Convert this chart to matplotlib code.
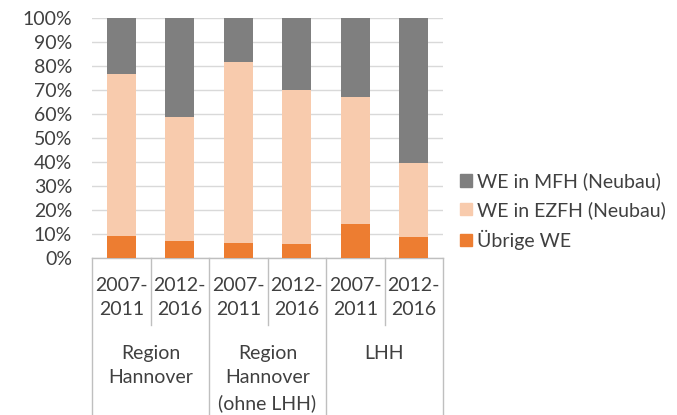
import numpy as np
import matplotlib
matplotlib.use("Agg")
import matplotlib.pyplot as plt
import matplotlib.transforms as mtransforms
from matplotlib.patches import Patch

plt.rcParams['font.family'] = ['Lato', 'DejaVu Sans']

# data (share in %)
periods = ['2007-\n2011', '2012-\n2016', '2007-\n2011', '2012-\n2016', '2007-\n2011', '2012-\n2016']
groups = ['Region\nHannover', 'Region\nHannover\n(ohne LHH)', 'LHH']
uebrige = [9.2, 7.1, 6.1, 5.8, 14.3, 8.6]
ezfh = [67.5, 51.6, 75.6, 64.4, 52.7, 31.0]
mfh = [23.3, 41.3, 18.3, 29.8, 33.0, 60.4]

col_mfh = '#7f7f7f'
col_ezfh = '#f8cbad'
col_ueb = '#ed7d31'
txt = '#404040'
grid = '#d9d9d9'
fs = 14

fig = plt.figure(figsize=(6.77, 4.15), dpi=100)
ax = fig.add_axes([92/677, 157/415, 351/677, 240/415])

x = np.arange(len(periods))
ueb = np.array(uebrige)
ez = np.array(ezfh)
mf = np.array(mfh)
ax.bar(x, ueb, width=0.5, color=col_ueb, zorder=3)
ax.bar(x, ez, width=0.5, bottom=ueb, color=col_ezfh, zorder=3)
ax.bar(x, mf, width=0.5, bottom=ueb + ez, color=col_mfh, zorder=3)

ax.set_xlim(-0.5, len(periods) - 0.5)
ax.set_ylim(0, 100)
ax.set_yticks(np.arange(0, 101, 10))
ax.set_yticklabels(['%d%%' % v for v in range(0, 101, 10)])
ax.tick_params(axis='y', length=0, pad=14.4, labelsize=fs, labelcolor=txt)
ax.set_xticks([])
ax.yaxis.grid(True, color=grid, lw=1)
ax.set_axisbelow(True)
for s in ['left', 'right', 'top']:
    ax.spines[s].set_visible(False)
ax.spines['bottom'].set_color('#bfbfbf')
ax.spines['bottom'].set_linewidth(1)

# two level category axis
tr = mtransforms.blended_transform_factory(ax.transData, ax.transAxes)
for i in range(len(periods) + 1):
    xb = i - 0.5
    yend = -0.654 if i % 2 == 0 else -0.279
    ax.plot([xb, xb], [0, yend], color='#bfbfbf', lw=1, transform=tr, clip_on=False)
for i, p in enumerate(periods):
    ax.text(i, -0.078, p, transform=tr, ha='center', va='top', fontsize=fs,
            color=txt, linespacing=1.55)
for g, name in enumerate(groups):
    ax.text(2 * g + 0.5, -0.362, name, transform=tr, ha='center', va='top',
            fontsize=fs, color=txt, linespacing=1.52)

handles = [Patch(color=col_mfh), Patch(color=col_ezfh), Patch(color=col_ueb)]
labels = ['WE in MFH (Neubau)', 'WE in EZFH (Neubau)', 'Übrige WE']
leg = fig.legend(handles, labels, loc='center left', bbox_to_anchor=(460/677, 0.4916),
                 frameon=False, fontsize=fs, handlelength=0.6, handleheight=0.6,
                 handletextpad=0.25, labelspacing=0.55, borderpad=0, borderaxespad=0)
for t in leg.get_texts():
    t.set_color(txt)

fig.savefig('out.png', dpi=100)
